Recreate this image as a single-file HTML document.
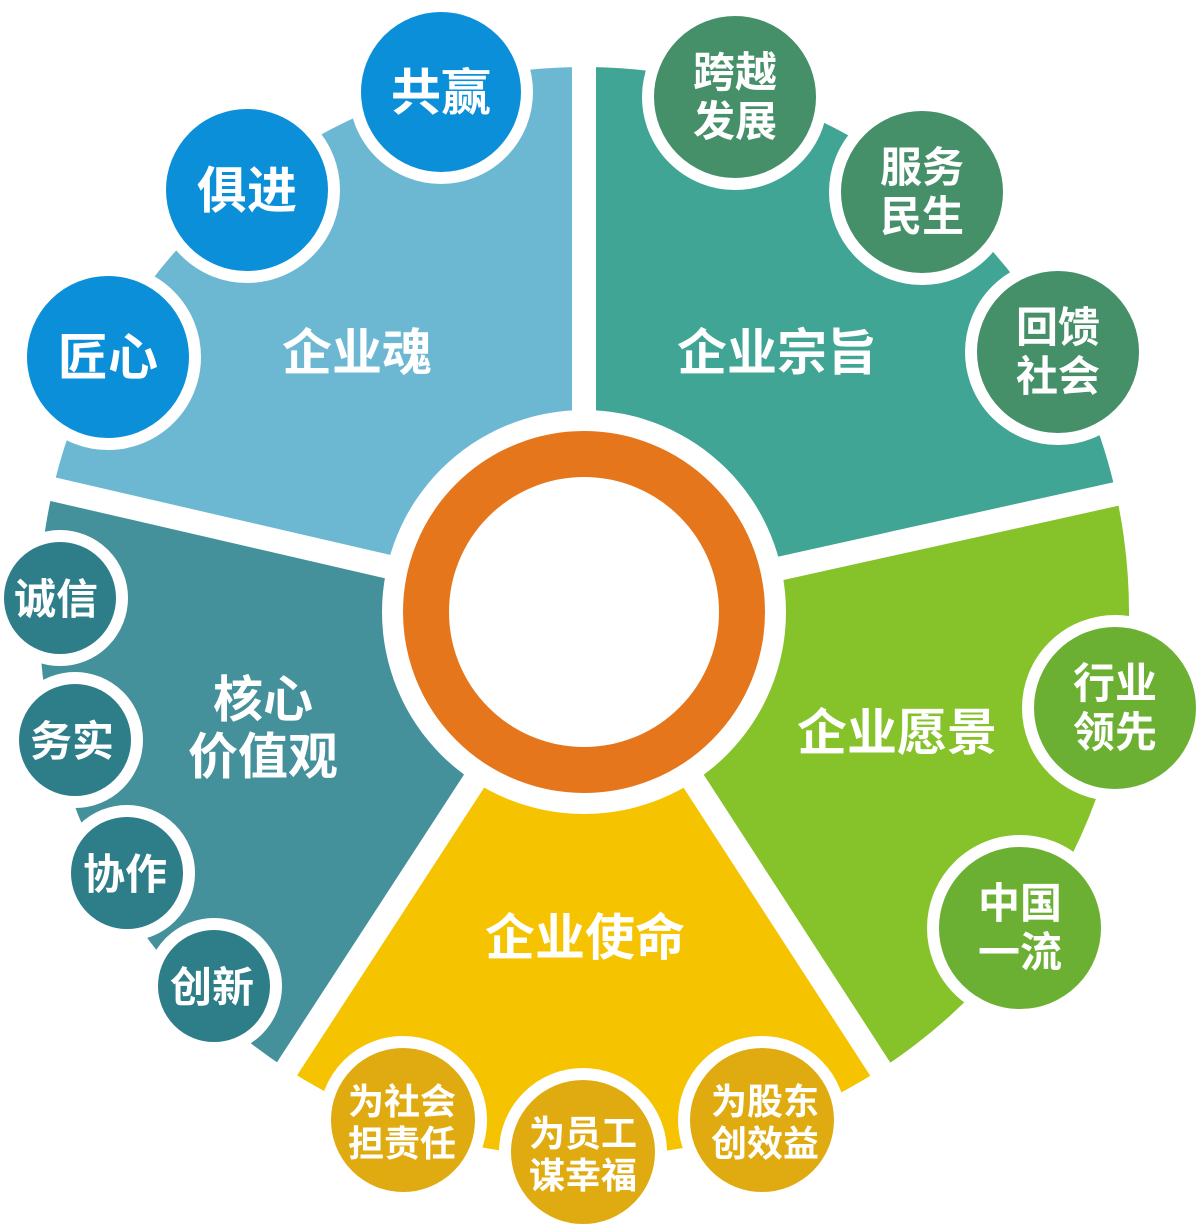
<!DOCTYPE html>
<html><head><meta charset="utf-8"><style>
html,body{margin:0;padding:0;background:#fff;}
svg{display:block}
text{font-family:"Liberation Sans","Noto Sans CJK SC",sans-serif;font-weight:bold;fill:#fff;text-anchor:middle;}
</style></head><body>
<svg width="1200" height="1228" viewBox="0 0 1200 1228" xmlns="http://www.w3.org/2000/svg">
<path d="M584 612 L584 67 A545 545 0 0 1 1116.1 494.1 Z" fill="#40a594"/>
<path d="M584 612 L1116.1 494.1 A545 545 0 0 1 880.8 1069.1 Z" fill="#86c22a"/>
<path d="M584 612 L880.8 1069.1 A545 545 0 0 1 287.2 1069.1 Z" fill="#f5c300"/>
<path d="M584 612 L287.2 1069.1 A545 545 0 0 1 52.9 489.4 Z" fill="#44919c"/>
<path d="M584 612 L52.9 489.4 A545 545 0 0 1 584 67 Z" fill="#6cb8d3"/>
<g stroke="#fff" stroke-width="24">
<line x1="584" y1="612" x2="584" y2="20"/>
<line x1="584" y1="612" x2="1170" y2="482"/>
<line x1="584" y1="612" x2="910" y2="1115"/>
<line x1="584" y1="612" x2="257" y2="1115"/>
<line x1="584" y1="612" x2="0" y2="477"/>
</g>
<circle cx="584" cy="612" r="202" fill="#fff"/>
<circle cx="584" cy="612" r="158" fill="none" stroke="#e5761b" stroke-width="46"/>
<g stroke="#fff" stroke-width="12">
<circle cx="441" cy="92" r="86" fill="#0b8fd9"/>
<circle cx="247" cy="190" r="87" fill="#0b8fd9"/>
<circle cx="108" cy="357" r="87" fill="#0b8fd9"/>
<circle cx="735" cy="97" r="87" fill="#458f69"/>
<circle cx="922" cy="192" r="87" fill="#458f69"/>
<circle cx="1058" cy="352" r="87" fill="#458f69"/>
<circle cx="1115" cy="708" r="87" fill="#6cb033"/>
<circle cx="1020" cy="928" r="87" fill="#6cb033"/>
<circle cx="762" cy="1120" r="78" fill="#e0ab10"/>
<circle cx="583" cy="1152" r="78" fill="#e0ab10"/>
<circle cx="403" cy="1120" r="78" fill="#e0ab10"/>
<circle cx="60" cy="598" r="62" fill="#2e7e8a"/>
<circle cx="75" cy="740" r="62" fill="#2e7e8a"/>
<circle cx="127" cy="873" r="62" fill="#2e7e8a"/>
<circle cx="214" cy="986" r="62" fill="#2e7e8a"/>
</g>
<g font-size="50">
<text x="357" y="370">企业魂</text>
<text x="777" y="370">企业宗旨</text>
<text x="897" y="750">企业愿景</text>
<text x="585" y="955">企业使命</text>
<text x="263" y="717">核心</text>
<text x="263" y="774">价值观</text>
</g>
<g font-size="50">
<text x="441" y="110">共赢</text>
<text x="247" y="208">俱进</text>
<text x="108" y="375">匠心</text>
</g>
<g font-size="42">
<text x="735" y="87">跨越</text><text x="735" y="136">发展</text>
<text x="922" y="182">服务</text><text x="922" y="231">民生</text>
<text x="1058" y="342">回馈</text><text x="1058" y="391">社会</text>
<text x="1115" y="698">行业</text><text x="1115" y="747">领先</text>
<text x="1020" y="918">中国</text><text x="1020" y="967">一流</text>
</g>
<g font-size="36">
<text x="402" y="1114">为社会</text><text x="402" y="1156">担责任</text>
<text x="583" y="1146">为员工</text><text x="583" y="1188">谋幸福</text>
<text x="765" y="1114">为股东</text><text x="765" y="1156">创效益</text>
</g>
<g font-size="42">
<text x="56" y="614">诚信</text>
<text x="72" y="756">务实</text>
<text x="125" y="889">协作</text>
<text x="212" y="1002">创新</text>
</g>
</svg>
</body></html>
